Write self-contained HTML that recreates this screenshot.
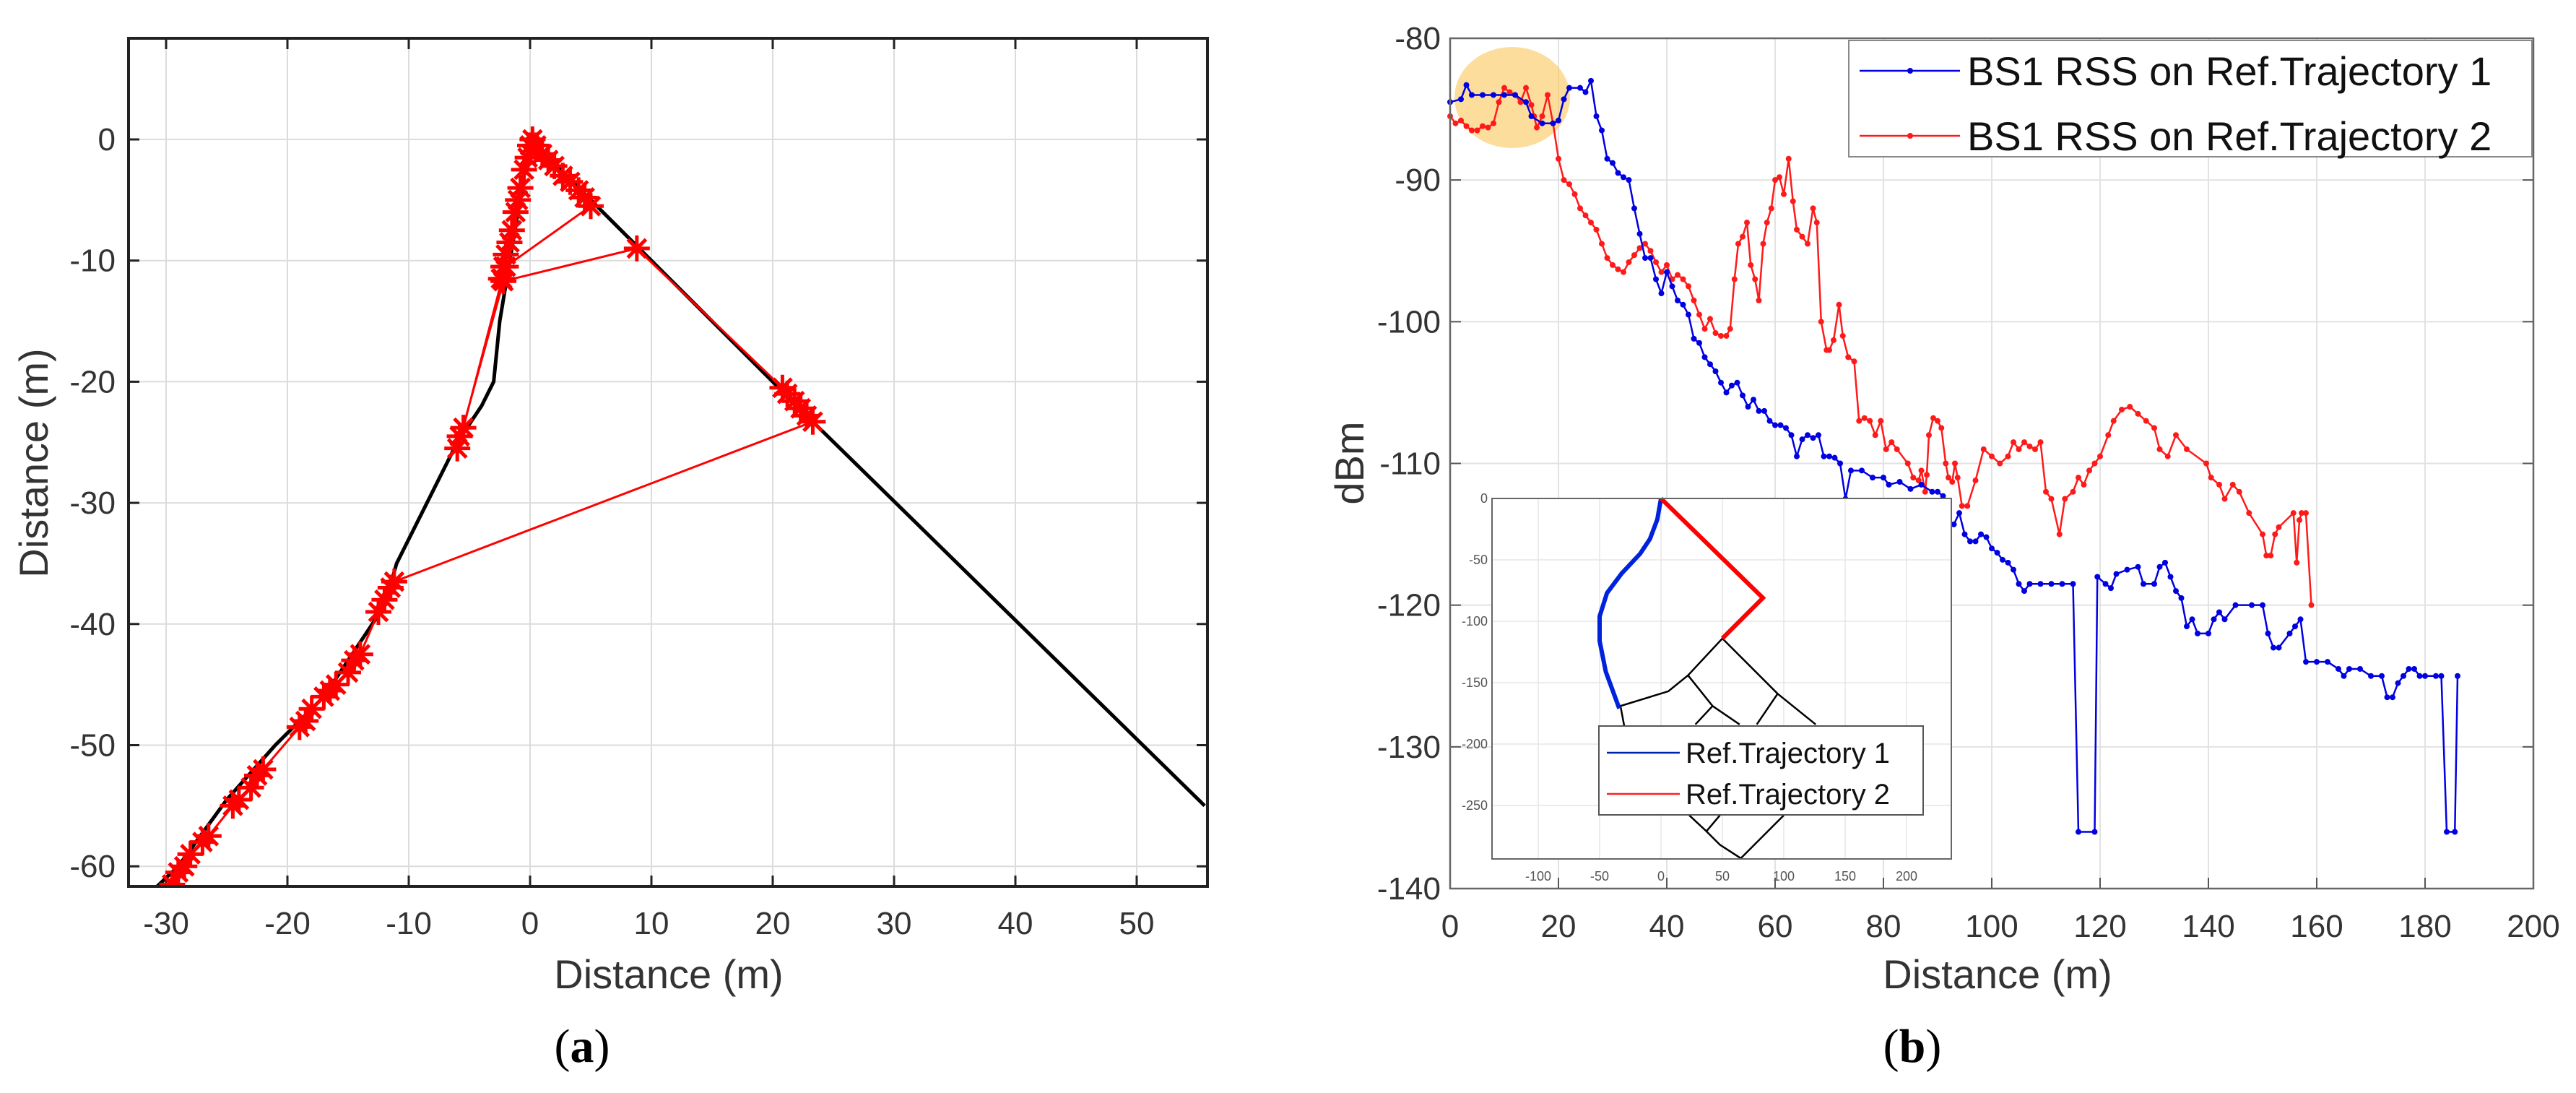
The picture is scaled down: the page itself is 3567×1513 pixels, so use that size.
<!DOCTYPE html>
<html><head><meta charset="utf-8"><style>
html,body{margin:0;padding:0;background:#fff;}
svg{display:block;font-family:"Liberation Sans",sans-serif;}
</style></head><body>
<svg id="s" width="3567" height="1513" xmlns="http://www.w3.org/2000/svg">
<rect width="3567" height="1513" fill="#fff"/>
</svg>
<script>
// ---------- data: panel (a) ----------
const aXTicks=[-30,-20,-10,0,10,20,30,40,50];
const aYTicks=[0,-10,-20,-30,-40,-50,-60];
const mapX=[-33.2,-29,-25,-21,-17,-15,-12,-11,-8,-6,-4,-3,-2.5,-2,-1.5,-1,-0.5,0,0.5,9,23,55.6];
const mapY=[-64,-60,-54.5,-50,-46,-43,-38.5,-35,-29,-25,-22,-20,-15,-12,-9,-6,-3,-0.5,-0.5,-9,-23,-55];
const estX=[-29.5,-29,-28.5,-28,-27,-26.5,-24.5,-24,-23,-22.5,-22,-19,-18.5,-18,-17,-16.5,-16,-15,-14.5,-14,-12.5,-12,-11.5,-11.2,23.3,22.8,22.3,21.8,21.2,20.8,8.8,-2.2,-6,-5.8,-5.5,-2.3,-2,5,4.5,4,3.3,2.7,2,1.5,1,0.5,0.2,0,-0.2,-0.5,-0.8,-1,-1.2,-1.5,-1.7,-2,-2.2,-2.4];
const estY=[-61.5,-60.5,-60,-59,-58,-57.5,-55,-54.5,-53.5,-52.5,-52,-48.5,-48,-47,-46,-45.5,-45,-44,-43,-42.5,-39,-38,-37,-36.5,-23.3,-22.8,-22.2,-21.6,-21,-20.5,-9,-11.7,-25.5,-24.5,-23.8,-11.5,-10.5,-5.5,-4.8,-4.2,-3.5,-3,-2.2,-1.7,-1.2,-0.5,0,-0.5,-1.5,-2.5,-4,-5,-6,-7.5,-8.5,-9.5,-10.5,-11.5];
// ---------- data: panel (b) ----------
const bXTicks=[0,20,40,60,80,100,120,140,160,180,200];
const bYTicks=[-80,-90,-100,-110,-120,-130,-140];
const t1X=[0,2,3,4,6,8,10,12,14,15,17,19,20,21,22,24,25,26,27,28,29,30,31,32,33,34,35,36,37,38,39,40,41,42,43,44,45,46,47,48,49,50,51,52,53,54,55,56,57,58,59,60,61,62,63,64,65,66,67,68,69,70,71,72,73,74,76,78,80,81,83,85,87,89,90,91,92,93,94,95,96,97,98,99,100,101,102,103,104,105,106,107,109,111,113,115,116,119,119.5,121,122,123,125,127,128,130,131,132,133,134,135,136,137,138,140,141,142,143,145,148,150,151,152,153,155,156,157,158,160,162,164,165,166,168,170,172,173,174,175,176,177,178,179,180,182,183,184,185.5,186];
const t1Y=[-84.5,-84.3,-83.3,-84,-84,-84,-84,-84,-84.5,-85.5,-86,-86,-85.8,-84.3,-83.5,-83.5,-83.8,-83,-85.5,-86.5,-88.5,-88.8,-89.5,-89.8,-90,-92,-93.8,-95.5,-95.5,-97,-98,-96.5,-97.5,-98.5,-98.8,-99.5,-101.2,-101.5,-102.5,-103,-103.5,-104.3,-105,-104.5,-104.3,-105.2,-106,-105.5,-106.3,-106.3,-107,-107.3,-107.3,-107.5,-108,-109.5,-108.3,-108,-108.2,-108,-109.5,-109.5,-109.6,-110,-112.5,-110.5,-110.5,-111,-111,-111.5,-111.3,-111.8,-111.5,-112,-112,-112.3,-114.5,-114.3,-113.5,-115,-115.5,-115.5,-115,-115.2,-116,-116.3,-116.8,-117,-117.5,-118.5,-119,-118.5,-118.5,-118.5,-118.5,-118.5,-136,-136,-118,-118.5,-118.8,-117.8,-117.5,-117.3,-118.5,-118.5,-117.3,-117,-118,-119,-119.5,-121.5,-121,-122,-122,-121,-120.5,-121,-120,-120,-120,-122,-123,-123,-122,-121.5,-121,-124,-124,-124,-124.5,-125,-124.5,-124.5,-125,-125,-126.5,-126.5,-125.5,-125,-124.5,-124.5,-125,-125,-125,-125,-136,-136,-125];
const t2X=[0,1,2,3,4,5,6,7,8,9,10,11,12,13,14,15,15.5,16,17,18,19,20,21,22,23,24,25,26,27,28,29,30,31,32,33,34,35,36,37,38,39,40,41,42,43,44,45,46,47,48,49,50,
51,51.7,52.5,53.2,54,54.8,55.5,56.3,57,57.8,58.5,59.3,60,60.8,61.6,62.5,63.3,64,65,66,67,67.7,68.5,69.5,70,70.8,71.8,72.5,73.5,74.6,75.5,76.5,77.5,78.5,79.5,80.5,81.5,82.5,84.5,85.5,86.5,87,87.7,88,88.4,89.2,90,90.7,91.5,92,92.7,93.2,93.7,94.5,95.5,97,98.5,100,101.5,103,104,105,106,107,108,109,110,111,112.5,113.5,115,116,117,118,119,120,121.5,122.5,124,125.5,127,128.5,130,131,132.5,134,136,139.6,140.5,142,143,144.5,145.7,147.5,150,150.7,151.5,152.3,153,155.7,156.3,156.8,157.2,158,159];
const t2Y=[-85.5,-86,-85.8,-86.2,-86.5,-86.5,-86.2,-86.3,-86,-84.5,-83.5,-83.8,-84,-84.5,-83.5,-84.7,-85.5,-86.3,-85.5,-84,-86,-88.5,-90,-90.3,-91,-92,-92.5,-93,-93.5,-94.5,-95.5,-96,-96.3,-96.5,-95.8,-95.3,-94.8,-94.5,-95,-95.8,-96.5,-96,-97,-96.7,-97,-97.5,-98.5,-99.5,-100.5,-99.8,-100.8,-101,-101,-100.5,-97,-94.5,-94,-93,-96,-97,-98.5,-94.5,-93,-92,-90,-89.8,-91,-88.5,-91.5,-93.5,-94,-94.5,-92,-93,-100,-102,-102,-101.3,-98.8,-101,-102.5,-102.8,-107,-106.8,-107,-108,-107,-109,-108.5,-109,-110,-111,-111.2,-110.5,-112,-110.8,-108,-106.8,-107,-107.5,-110,-111,-111.3,-110,-111,-113,-113,-111.2,-109,-109.5,-110,-109.5,-108.5,-109,-108.5,-108.8,-109,-108.5,-112,-112.5,-115,-112.5,-112,-111,-111.5,-110.5,-110,-109.5,-108,-107,-106.2,-106,-106.5,-107,-107.5,-109,-109.5,-108,-109,-110,-111,-111.5,-112.5,-111.5,-112,-113.5,-115,-116.5,-116.5,-115,-114.5,-113.5,-117,-114,-113.5,-113.5,-120,-123];
// inset map
const insXTicks=[-100,-50,0,50,100,150,200];
const insYTicks=[0,50,100,150,200,250];
const insBlueX=[0,-3,-9,-17,-32,-44,-50,-50,-45,-34];
const insBlueY=[0,17,33,45,61,77,96,116,141,171];
const insRedX=[0,83,50];
const insRedY=[0,81,114];
const insRoads=[[[50,114],[22,144],[6,157],[-33,169],[-30,185]],[[22,144],[42,169],[64,184]],[[42,169],[28,184]],[[50,114],[95,159],[126,184]],[[95,159],[78,184]],[[23,258],[37,271],[48,258]],[[37,271],[48,282],[65,293],[100,258]]];

const NS="http://www.w3.org/2000/svg";
const svg=document.getElementById('s');
function mk(tag,attrs,parent){const e=document.createElementNS(NS,tag);for(const k in attrs)e.setAttribute(k,attrs[k]);(parent||svg).appendChild(e);return e;}
function txt(x,y,s,size,anchor,extra,parent){const t=mk('text',Object.assign({x:x,y:y,'font-size':size,'text-anchor':anchor||'middle',fill:'#333'},extra||{}),parent);t.textContent=s;return t;}

// ===== Panel (a) =====
const aX=v=>230+(v+30)*16.8, aY=v=>193-v*16.77;
const gA=mk('g',{});


aXTicks.forEach(v=>{const l=mk('line',{x1:aX(v),x2:aX(v),y1:53,y2:1227,stroke:'#dcdcdc','stroke-width':2},gA);

mk('line',{x1:aX(v),x2:aX(v),y1:1227,y2:1212,stroke:'#222','stroke-width':3},gA);mk('line',{x1:aX(v),x2:aX(v),y1:53,y2:68,stroke:'#222','stroke-width':3},gA);
const t=txt(aX(v),1293,String(v),44,'middle',{},gA);});
aYTicks.forEach(v=>{const l=mk('line',{x1:178,x2:1672,y1:aY(v),y2:aY(v),stroke:'#dcdcdc','stroke-width':2},gA);

mk('line',{x1:178,x2:193,y1:aY(v),y2:aY(v),stroke:'#222','stroke-width':3},gA);mk('line',{x1:1657,x2:1672,y1:aY(v),y2:aY(v),stroke:'#222','stroke-width':3},gA);
const t=txt(160,aY(v)+15,String(v),44,'end',{},gA);});
const cp=mk('clipPath',{id:'ca'},gA);mk('rect',{x:178,y:53,width:1494,height:1174},cp);
const gAp=mk('g',{'clip-path':'url(#ca)'},gA);
const mp=mk('polyline',{points:mapX.map((x,i)=>aX(x)+','+aY(mapY[i])).join(' '),fill:'none',stroke:'#000','stroke-width':5},gAp);

const ep=mk('polyline',{points:estX.map((x,i)=>aX(x)+','+aY(estY[i])).join(' '),fill:'none',stroke:'#f00','stroke-width':3},gAp);

estX.forEach((x,i)=>{const cx=aX(x),cy=aY(estY[i]),r=18;const s=mk('path',{d:`M${cx-r},${cy}H${cx+r}M${cx},${cy-r}V${cy+r}M${cx-r*.7},${cy-r*.7}L${cx+r*.7},${cy+r*.7}M${cx-r*.7},${cy+r*.7}L${cx+r*.7},${cy-r*.7}`,stroke:'#f00','stroke-width':5},gAp);
});
const fa=mk('rect',{x:178,y:53,width:1494,height:1174,fill:'none',stroke:'#222','stroke-width':4},gA);

let t=txt(926,1368,'Distance (m)',56,'middle',{},gA);
t=txt(0,0,'Distance (m)',56,'middle',{transform:'translate(66,641) rotate(-90)'},gA);
t=mk('text',{x:806,y:1470,'font-size':66,'text-anchor':'middle','font-family':'Liberation Serif, serif',fill:'#000'});t.innerHTML='(<tspan font-weight="bold">a</tspan>)';


// ===== Panel (b) =====
const bX=v=>2008+v*7.5, bY=v=>53+(-80-v)*19.617;
const gB=mk('g',{});


bXTicks.forEach(v=>{const l=mk('line',{x1:bX(v),x2:bX(v),y1:53,y2:1230,stroke:'#e2e2e2','stroke-width':2},gB);

mk('line',{x1:bX(v),x2:bX(v),y1:1230,y2:1215,stroke:'#555','stroke-width':2},gB);
const t=txt(bX(v),1297,String(v),44,'middle',{},gB);});
bYTicks.forEach(v=>{const l=mk('line',{x1:2008,x2:3508,y1:bY(v),y2:bY(v),stroke:'#e2e2e2','stroke-width':2},gB);

mk('line',{x1:2008,x2:2023,y1:bY(v),y2:bY(v),stroke:'#555','stroke-width':2},gB);mk('line',{x1:3493,x2:3508,y1:bY(v),y2:bY(v),stroke:'#555','stroke-width':2},gB);
const t=txt(1995,bY(v)+15,String(v),44,'end',{},gB);});
const hl=mk('ellipse',{cx:2094,cy:135,rx:80,ry:70,fill:'#fbc75a','fill-opacity':0.6},gB);

function series(xs,ys,col,name){const p=mk('polyline',{points:xs.map((x,i)=>bX(x)+','+bY(ys[i])).join(' '),fill:'none',stroke:col,'stroke-width':2.5},gB);

xs.forEach((x,i)=>{const c=mk('circle',{cx:bX(x),cy:bY(ys[i]),r:4,fill:col},gB);});}
series(t2X,t2Y,'#ff1a1a','rss-trajectory-2');
series(t1X,t1Y,'#0000e0','rss-trajectory-1');
const fb=mk('rect',{x:2008,y:53,width:1500,height:1177,fill:'none',stroke:'#666','stroke-width':2.5},gB);

// legend
const lg=mk('g',{},gB);
mk('rect',{x:2560,y:56,width:946,height:161,fill:'#fff',stroke:'#888','stroke-width':2},lg);
[['BS1 RSS on Ref.Trajectory 1','#0000e0',118],['BS1 RSS on Ref.Trajectory 2','#ff1a1a',208]].forEach(r=>{
const le=mk('g',{},lg);
mk('line',{x1:2575,x2:2714,y1:r[2]-20,y2:r[2]-20,stroke:r[1],'stroke-width':2.5},le);mk('circle',{cx:2645,cy:r[2]-20,r:4,fill:r[1]},le);
txt(2724,r[2],r[0],56,'start',{fill:'#111'},le);});
t=txt(0,0,'dBm',56,'middle',{transform:'translate(1888,641) rotate(-90)'},gB);
t=txt(2766,1368,'Distance (m)',56,'middle',{},gB);
t=mk('text',{x:2648,y:1470,'font-size':66,'text-anchor':'middle','font-family':'Liberation Serif, serif',fill:'#000'});t.innerHTML='(<tspan font-weight="bold">b</tspan>)';


// ===== Inset =====
const iX=u=>2300+u*1.7, iY=u=>690+u*1.7;
const gI=mk('g',{});
mk('rect',{x:2066,y:690,width:636,height:499,fill:'#fff'},gI);
insXTicks.forEach(v=>{mk('line',{x1:iX(v),x2:iX(v),y1:690,y2:1189,stroke:'#e6e6e6','stroke-width':1.5},gI);
const t=txt(iX(v),1219,String(v),18,'middle',{fill:'#555'},gI);});
insYTicks.forEach(v=>{mk('line',{x1:2066,x2:2702,y1:iY(v),y2:iY(v),stroke:'#e6e6e6','stroke-width':1.5},gI);
const t=txt(2060,iY(v)+6,v===0?'0':String(-v),18,'end',{fill:'#555'},gI);});
insRoads.forEach(r=>{const p=mk('polyline',{points:r.map(q=>iX(q[0])+','+iY(q[1])).join(' '),fill:'none',stroke:'#000','stroke-width':2.5},gI);});
let ip=mk('polyline',{points:insBlueX.map((x,i)=>iX(x)+','+iY(insBlueY[i])).join(' '),fill:'none',stroke:'#0022dd','stroke-width':6,'stroke-linejoin':'round'},gI);

ip=mk('polyline',{points:insRedX.map((x,i)=>iX(x)+','+iY(insRedY[i])).join(' '),fill:'none',stroke:'#ff0000','stroke-width':6},gI);

mk('rect',{x:2066,y:690,width:636,height:499,fill:'none',stroke:'#666','stroke-width':2},gI);
const il=mk('g',{},gI);
mk('rect',{x:2214,y:1005,width:449,height:123,fill:'#fff',stroke:'#555','stroke-width':2},il);
[['Ref.Trajectory 1','#0022aa',1056],['Ref.Trajectory 2','#ff2020',1113]].forEach(r=>{
const le=mk('g',{},il);
mk('line',{x1:2225,x2:2326,y1:r[2]-14,y2:r[2]-14,stroke:r[1],'stroke-width':2.5},le);
txt(2334,r[2],r[0],40,'start',{fill:'#111'},le);});
</script>
</body></html>
